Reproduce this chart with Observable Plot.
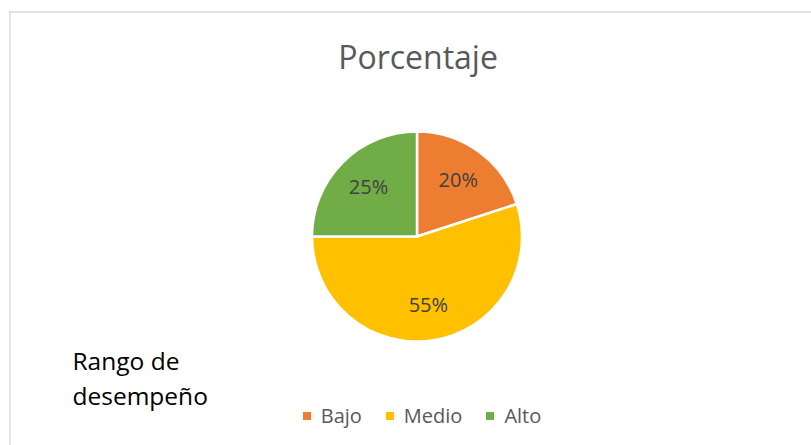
<!DOCTYPE html>
<html>
<head>
<meta charset="utf-8">
<script src="https://cdn.jsdelivr.net/npm/d3@7"></script>
<script src="https://cdn.jsdelivr.net/npm/@observablehq/plot@0.6"></script>
<style>
  html, body { margin: 0; padding: 0; background: #fff; }
  #chart { position: relative; width: 811px; height: 445px; overflow: hidden; }
  #legend { position: absolute; left: 0; width: 844px; top: 399px; display: flex; justify-content: center; }
  .leg-swatch { margin-right: 1.2em !important; }
  .leg-swatch:last-child { margin-right: 0 !important; }
</style>
</head>
<body>
<div id="chart"></div>
<script>
// Data
const categorias = ["Bajo", "Medio", "Alto"];
const valores = [20, 55, 25];
const etiquetas = ["20%", "55%", "25%"];
const colores = ["#ED7D31", "#FFC000", "#70AD47"];
const titulo = "Porcentaje";
const tituloEje = "Rango de\ndesempeño";

// Layout
const W = 811, H = 445;
const cx = 417, cy = 236.5, R = 105;
const font = "'Open Sans', sans-serif";

const datos = categorias.map((c, i) => ({categoria: c, valor: valores[i], etiqueta: etiquetas[i]}));
const pie = d3.pie().sort(null).value(d => d.valor);
const arcos = pie(datos);
const arcGen = d3.arc().innerRadius(0).outerRadius(R);
const labelArc = d3.arc().innerRadius(R * 0.66).outerRadius(R * 0.66);
const etiquetasPos = arcos.map(a => {
  const [dx, dy] = labelArc.centroid(a);
  return {x: cx + dx, y: cy + dy, texto: a.data.etiqueta};
});

const colorOpts = {type: "ordinal", domain: categorias, range: colores};
const colorScale = Plot.scale({color: colorOpts});

function pieMark(index, scales) {
  const color = (scales && scales.color) ? scales.color : (d => colorScale.apply(d));
  const g = d3.create("svg:g").attr("transform", `translate(${cx},${cy})`);
  g.selectAll("path")
    .data(arcos)
    .join("path")
    .attr("d", arcGen)
    .attr("fill", d => color(d.data.categoria))
    .attr("stroke", "#fff")
    .attr("stroke-width", 2.5)
    .attr("stroke-linejoin", "round");
  return g.node();
}

const plot = Plot.plot({
  width: W,
  height: H,
  margin: 0,
  x: {type: "identity", axis: null},
  y: {type: "identity", axis: null},
  color: colorOpts,
  style: {fontFamily: font, background: "#fff", overflow: "visible"},
  marks: [
    Plot.ruleX([9.5], {y1: 11, y2: H, stroke: "#d9d9d9", strokeWidth: 1.3}),
    Plot.ruleY([11.5], {x1: 9, x2: W, stroke: "#d9d9d9", strokeWidth: 1.3}),
    Plot.dot(datos, {x: () => -100, y: () => -100, fill: "categoria", r: 0}),
    pieMark,
    Plot.text(etiquetasPos, {x: "x", y: "y", text: "texto", fill: "#404040", fontSize: 20, fontFamily: font}),
    Plot.text([titulo], {x: () => 417.5, y: () => 58.5, text: d => d, fill: "#595959", fontSize: 32, fontFamily: font}),
    Plot.text([tituloEje], {x: () => 72, y: () => 376, text: d => d, textAnchor: "start", lineHeight: 1.4, fill: "#000", fontSize: 24.5, fontFamily: font})
  ]
});

const chart = document.getElementById("chart");
chart.appendChild(plot);

const legend = Plot.legend({
  color: colorOpts,
  legend: "swatches",
  swatchSize: 8,
  className: "leg",
  style: {fontSize: "20px", fontFamily: font, color: "#595959"}
});
const legWrap = document.createElement("div");
legWrap.id = "legend";
legWrap.appendChild(legend);
chart.appendChild(legWrap);
</script>
</body>
</html>
